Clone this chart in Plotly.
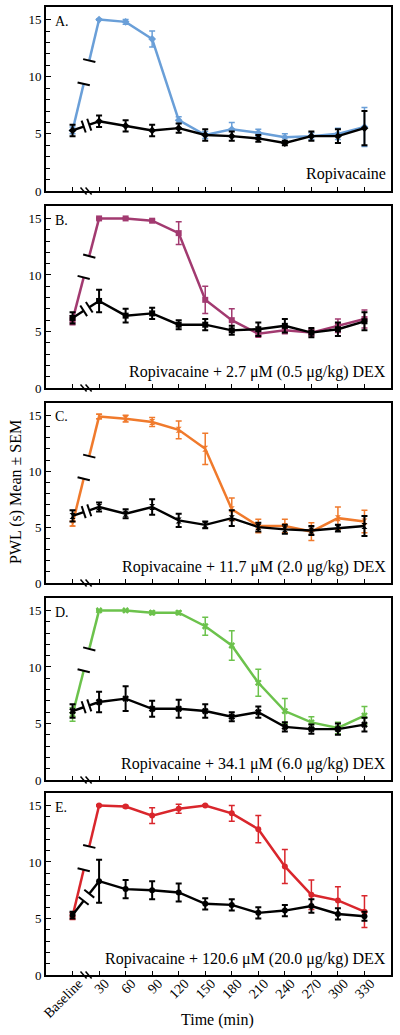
import math
import plotly.graph_objects as go
from plotly.subplots import make_subplots

time_labels = ["Baseline", "30", "60", "90", "120", "150", "180", "210", "240", "270", "300", "330"]

A_col = [5.3, 15.0, 14.8, 13.3, 6.2, 4.9, 5.4, 5.1, 4.7, 4.8, 5.0, 5.6]
A_col_err = [0.3, 0.05, 0.2, 0.7, 0.3, 0.3, 0.6, 0.3, 0.3, 0.3, 0.5, 1.7]
A_blk = [5.3, 6.1, 5.7, 5.3, 5.5, 4.9, 4.8, 4.6, 4.2, 4.8, 4.8, 5.5]
A_blk_err = [0.5, 0.5, 0.5, 0.5, 0.4, 0.5, 0.4, 0.3, 0.2, 0.4, 0.6, 1.5]

B_col = [6.0, 15.0, 15.0, 14.8, 13.7, 7.8, 6.0, 4.8, 5.1, 4.9, 5.5, 6.1]
B_col_err = [0.4, 0.05, 0.05, 0.1, 1.0, 1.2, 1.0, 0.3, 0.3, 0.3, 0.6, 0.8]
B_blk = [6.2, 7.7, 6.4, 6.6, 5.6, 5.6, 5.1, 5.2, 5.5, 4.9, 5.2, 5.9]
B_blk_err = [0.5, 1.0, 0.6, 0.5, 0.4, 0.5, 0.4, 0.6, 0.6, 0.4, 0.6, 0.8]

C_col = [5.3, 14.9, 14.7, 14.4, 13.7, 12.0, 6.6, 5.1, 5.1, 4.6, 5.8, 5.5]
C_col_err = [0.2, 0.2, 0.3, 0.4, 0.8, 1.4, 1.0, 0.6, 0.6, 0.8, 1.0, 1.0]
C_blk = [6.0, 6.8, 6.2, 6.8, 5.6, 5.2, 5.8, 5.0, 4.8, 4.7, 4.9, 5.1]
C_blk_err = [0.5, 0.4, 0.4, 0.7, 0.6, 0.3, 0.7, 0.4, 0.4, 0.4, 0.3, 0.9]

D_col = [5.8, 15.0, 15.0, 14.8, 14.8, 13.6, 11.9, 8.6, 6.1, 5.1, 4.6, 5.7]
D_col_err = [0.6, 0.05, 0.05, 0.15, 0.15, 0.8, 1.3, 1.2, 1.1, 0.5, 0.5, 0.8]
D_blk = [6.1, 6.9, 7.2, 6.3, 6.3, 6.1, 5.6, 6.0, 4.7, 4.5, 4.5, 4.9]
D_blk_err = [0.6, 0.9, 1.1, 0.7, 0.8, 0.6, 0.4, 0.5, 0.4, 0.4, 0.5, 0.6]

E_col = [5.2, 15.0, 14.9, 14.1, 14.7, 15.0, 14.3, 12.9, 9.6, 7.1, 6.6, 5.6]
E_col_err = [0.3, 0.05, 0.1, 0.7, 0.4, 0.05, 0.7, 1.2, 1.5, 1.3, 1.2, 1.4]
E_blk = [5.3, 8.3, 7.6, 7.5, 7.3, 6.3, 6.2, 5.5, 5.7, 6.1, 5.4, 5.2]
E_blk_err = [0.3, 1.9, 0.8, 0.8, 0.8, 0.5, 0.5, 0.5, 0.5, 0.6, 0.5, 0.4]

panel_letters = ["A.", "B.", "C.", "D.", "E."]
panel_texts = [
    "Ropivacaine",
    "Ropivacaine + 2.7 μM (0.5 μg/kg) DEX",
    "Ropivacaine + 11.7 μM (2.0 μg/kg) DEX",
    "Ropivacaine + 34.1 μM (6.0 μg/kg) DEX",
    "Ropivacaine + 120.6 μM (20.0 μg/kg) DEX",
]
panel_colors = ["#6a9fd8", "#a23a70", "#f07a2c", "#6cc24c", "#d9262c"]
panel_symbols = ["diamond", "square", "hourglass", "x", "circle"]

colored = [(A_col, A_col_err), (B_col, B_col_err), (C_col, C_col_err), (D_col, D_col_err), (E_col, E_col_err)]
black = [(A_blk, A_blk_err), (B_blk, B_blk_err), (C_blk, C_blk_err), (D_blk, D_blk_err), (E_blk, E_blk_err)]

FONT = "Liberation Serif"
W, H = 400, 1035
ML, MR, MT, MB = 46, 9, 7, 60
X_RANGE = [-1, 12]
Y_RANGE = [0, 16.1]
panel_px = [(7, 191), (206, 388), (403, 583), (598, 780), (793, 975)]
plot_h = H - MT - MB
plot_w = W - ML - MR

BREAK1, BREAK2 = 0.42, 0.63

fig = make_subplots(rows=5, cols=1)

xs = list(range(len(time_labels)))

for i in range(5):
    r = i + 1
    top, bot = panel_px[i]
    px_x = plot_w / (X_RANGE[1] - X_RANGE[0])
    px_y = (bot - top) / (Y_RANGE[1] - Y_RANGE[0])
    for (vals, errs), color, lw, ethick in [
        (colored[i], panel_colors[i], 2.5, 1.5),
        (black[i], "black", 2.4, 2.0),
    ]:
        sym = panel_symbols[i]
        fig.add_trace(go.Scatter(
            x=xs[1:], y=vals[1:], mode="lines+markers",
            line=dict(color=color, width=lw),
            marker=dict(symbol=sym, size=6, color=color, line=dict(width=0, color=color)),
            error_y=dict(type="data", array=errs[1:], color=color, thickness=ethick, width=3),
            showlegend=False, cliponaxis=False,
        ), row=r, col=1)
        fig.add_trace(go.Scatter(
            x=xs[:1], y=vals[:1], mode="markers",
            marker=dict(symbol=sym, size=6, color=color, line=dict(width=0, color=color)),
            error_y=dict(type="data", array=errs[:1], color=color, thickness=ethick, width=3),
            showlegend=False, cliponaxis=False,
        ), row=r, col=1)
        y0, y1 = vals[0], vals[1]
        yb1 = y0 + (y1 - y0) * (BREAK1 - xs[0]) / (xs[1] - xs[0])
        yb2 = y0 + (y1 - y0) * (BREAK2 - xs[0]) / (xs[1] - xs[0])
        fig.add_trace(go.Scatter(
            x=[xs[0], BREAK1, None, BREAK2, xs[1]], y=[y0, yb1, None, yb2, y1],
            mode="lines", line=dict(color=color, width=lw),
            showlegend=False, hoverinfo="skip",
        ), row=r, col=1)
        theta = math.degrees(math.atan2((y1 - y0) * px_y, (xs[1] - xs[0]) * px_x))
        ang = -(theta + 90)
        fig.add_trace(go.Scatter(
            x=[BREAK1, BREAK2], y=[yb1, yb2], mode="markers",
            marker=dict(symbol="line-ew", size=9, angle=ang,
                        line=dict(color="black", width=2)),
            showlegend=False, hoverinfo="skip", cliponaxis=False,
        ), row=r, col=1)

    yd = [(H - MB - bot) / plot_h, (H - MB - top) / plot_h]
    xa = "xaxis" if r == 1 else f"xaxis{r}"
    ya = "yaxis" if r == 1 else f"yaxis{r}"
    fig.layout[ya].update(
        domain=yd, range=Y_RANGE, tickvals=[0, 5, 10, 15], ticks="inside", ticklen=5,
        tickwidth=1.2, tickcolor="black", showline=True, linecolor="black", linewidth=1.8,
        mirror=True, showgrid=False, zeroline=False, automargin=False,
        tickfont=dict(family=FONT, size=13, color="black"),
        minor=dict(tickvals=[v for v in range(1, 16) if v % 5], ticks="inside", ticklen=4,
                   tickwidth=1.2, tickcolor="black", showgrid=False),
    )
    fig.layout[xa].update(
        range=X_RANGE, tickvals=xs, ticktext=time_labels if r == 5 else [""] * len(xs),
        showticklabels=(r == 5), tickangle=-45, automargin=False,
        ticks="inside", ticklen=4, tickwidth=1.2, tickcolor="black",
        showline=True, linecolor="black", linewidth=1.8, mirror=True,
        showgrid=False, zeroline=False, ticklabelstandoff=-7, ticklabelshift=6,
        tickfont=dict(family=FONT, size=14, color="black"),
    )
    xref = "x" if r == 1 else f"x{r}"
    yref = "y" if r == 1 else f"y{r}"
    fig.add_annotation(text=panel_letters[i], xref=f"{xref} domain", yref=f"{yref} domain",
                       x=0.02, y=0.975, xanchor="left", yanchor="top", showarrow=False,
                       font=dict(family=FONT, size=14, color="black"))
    fig.add_annotation(text=panel_texts[i], xref=f"{xref} domain", yref=f"{yref} domain",
                       x=0.99, y=0.03, xanchor="right", yanchor="bottom", showarrow=False,
                       font=dict(family=FONT, size=16, color="black"))
    dd = 3.5 / (bot - top)
    for off in (0.30, 0.49):
        fig.add_shape(type="line", xref=xref, yref=f"{yref} domain",
                      x0=off, x1=off + 0.23, y0=dd, y1=-dd,
                      line=dict(color="black", width=1.5))

fig.add_annotation(text="PWL (s) Mean ± SEM", xref="paper", yref="paper",
                   x=(16 - ML) / plot_w, y=(H - MB - 492) / plot_h, textangle=-90,
                   xanchor="center", yanchor="middle",
                   showarrow=False, font=dict(family=FONT, size=16, color="black"))
fig.add_annotation(text="Time (min)", xref="paper", yref="paper",
                   x=(217 - ML) / plot_w, y=(H - MB - 1020) / plot_h,
                   xanchor="center", yanchor="middle",
                   showarrow=False, font=dict(family=FONT, size=16, color="black"))

fig.update_layout(
    width=W, height=H, margin=dict(l=ML, r=MR, t=MT, b=MB),
    plot_bgcolor="white", paper_bgcolor="white", showlegend=False,
    font=dict(family=FONT, color="black"),
)

fig.write_html("out.html", config={"displayModeBar": False},
               post_script="document.body.style.margin='0px';document.body.style.padding='0px';document.body.style.overflow='hidden';")
